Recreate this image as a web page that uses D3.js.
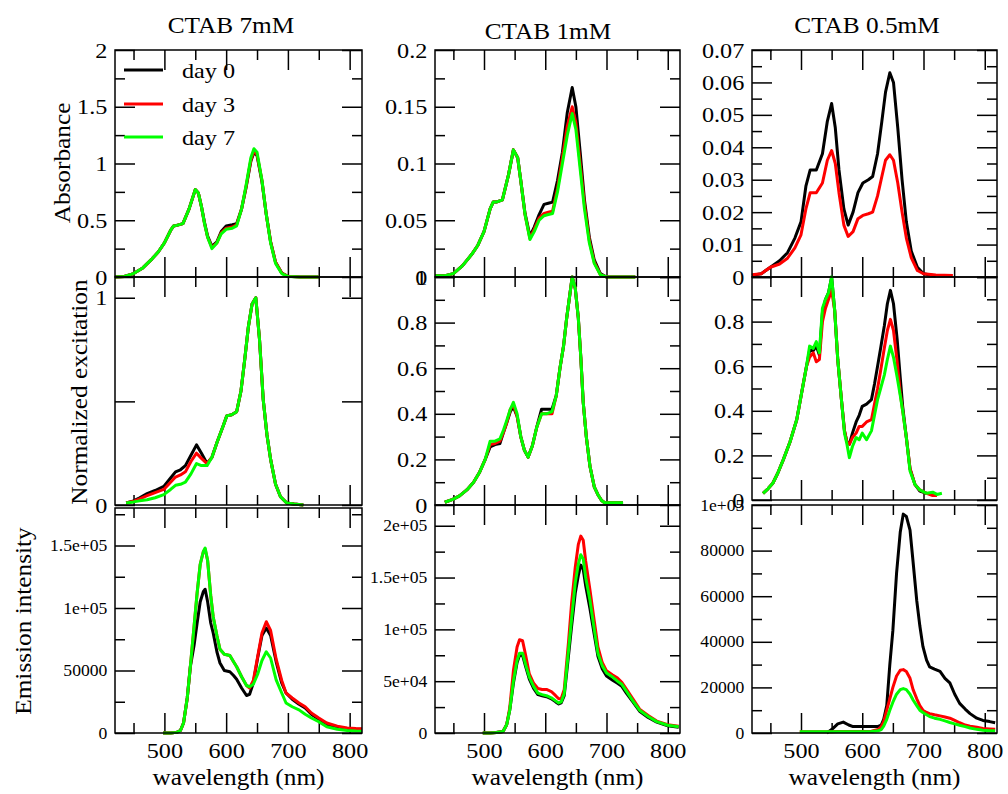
<!DOCTYPE html>
<html>
<head>
<meta charset="utf-8">
<script src="https://cdn.jsdelivr.net/npm/d3@7"></script>
<title>CTAB spectra</title>
<style>
  body { margin: 0; background: #fff; }
</style>
</head>
<body>
<svg width="1008" height="794" id="mainsvg"></svg>
<script>
// ---- data ----
const wlDomain = [420, 820];
const seriesNames = ["day 0", "day 3", "day 7"];
const seriesColors = ["#000000", "#ff0000", "#00ff00"];
const columnTitles = ["CTAB 7mM", "CTAB 1mM", "CTAB 0.5mM"];
const rowTitles = ["Absorbance", "Normalized excitation", "Emission intensity"];
const xMajor = [500, 600, 700, 800];
const xMinor = [450, 550, 650, 750];

// absorbance, 7 mM
const absWl7 = [420,435,450,465,480,490,500,510,515,520,530,540,550,555,560,565,570,577,585,592,600,610,617,625,632,640,645,650,658,665,672,680,690,700,720,750];
const abs7Day0 = [0,0.005,0.03,0.08,0.16,0.22,0.3,0.41,0.45,0.455,0.47,0.6,0.77,0.74,0.62,0.48,0.36,0.27,0.31,0.4,0.45,0.46,0.47,0.6,0.78,1.02,1.10,1.07,0.84,0.55,0.31,0.13,0.035,0.006,0,0];
const abs7Day3 = [0,0.005,0.03,0.08,0.16,0.22,0.3,0.41,0.45,0.455,0.47,0.6,0.77,0.74,0.62,0.47,0.35,0.26,0.3,0.39,0.43,0.44,0.46,0.6,0.79,1.03,1.11,1.08,0.85,0.55,0.31,0.13,0.035,0.006,0,0];
const abs7Day7 = [0,0.005,0.03,0.08,0.16,0.22,0.3,0.41,0.45,0.455,0.47,0.6,0.77,0.74,0.62,0.47,0.35,0.25,0.3,0.38,0.42,0.43,0.45,0.6,0.8,1.05,1.13,1.10,0.85,0.55,0.3,0.12,0.03,0.005,0,0];

// absorbance, 1 mM
const absWl1 = [420,435,450,465,480,490,500,510,515,520,530,540,548,555,560,567,575,582,590,598,605,612,620,628,636,644,650,657,664,672,680,690,700,720,747];
const abs1Day0 = [0.001,0.001,0.003,0.01,0.02,0.028,0.04,0.06,0.066,0.066,0.068,0.09,0.112,0.105,0.085,0.056,0.036,0.044,0.055,0.064,0.065,0.066,0.085,0.11,0.145,0.167,0.15,0.11,0.068,0.035,0.015,0.003,0,0,0];
const abs1Day3 = [0.001,0.001,0.003,0.01,0.02,0.028,0.04,0.06,0.066,0.066,0.068,0.09,0.112,0.105,0.085,0.055,0.034,0.042,0.052,0.056,0.057,0.058,0.078,0.105,0.133,0.15,0.136,0.1,0.064,0.032,0.013,0.002,0,0,0];
const abs1Day7 = [0.001,0.001,0.003,0.01,0.02,0.028,0.04,0.06,0.066,0.066,0.068,0.09,0.112,0.105,0.085,0.055,0.033,0.04,0.05,0.054,0.055,0.056,0.075,0.1,0.125,0.144,0.13,0.095,0.06,0.03,0.012,0.002,0,0,0];

// absorbance, 0.5 mM (no day 7 trace)
const absWl05 = [420,435,450,465,478,490,500,508,515,525,535,543,550,556,562,570,577,585,593,601,610,617,625,632,638,645,651,658,665,672,680,690,700,720,748];
const abs05Day0 = [0.0005,0.001,0.003,0.005,0.0075,0.012,0.017,0.028,0.033,0.033,0.038,0.048,0.0535,0.046,0.033,0.021,0.016,0.02,0.026,0.029,0.03,0.031,0.038,0.048,0.057,0.063,0.06,0.046,0.03,0.017,0.008,0.003,0.001,0.0003,null];
const abs05Day3 = [0.0007,0.001,0.003,0.004,0.0058,0.009,0.013,0.021,0.026,0.026,0.029,0.036,0.039,0.035,0.026,0.016,0.0125,0.014,0.018,0.019,0.0195,0.02,0.025,0.031,0.036,0.0377,0.036,0.029,0.02,0.012,0.006,0.002,0.001,0.0006,0.0005];
const abs05Day7 = absWl05.map(() => null);

// normalized excitation, 7 mM
const excWl7 = [438,450,460,472,485,499,510,518,526,534,543,552,560,569,577,585,595,601,609,617,624,630,636,642,648,654,660,666,672,680,688,698,710,725];
const exc7Day0 = [0.01,0.02,0.035,0.055,0.07,0.09,0.13,0.16,0.17,0.19,0.24,0.29,0.25,0.2,0.23,0.3,0.38,0.43,0.435,0.45,0.55,0.7,0.86,0.97,1.0,0.8,0.51,0.34,0.22,0.1,0.04,0.01,0.005,0];
const exc7Day3 = [0.01,0.018,0.03,0.045,0.06,0.075,0.11,0.135,0.145,0.16,0.21,0.25,0.225,0.2,0.23,0.3,0.38,0.43,0.435,0.45,0.55,0.7,0.86,0.97,1.0,0.8,0.51,0.34,0.22,0.1,0.04,0.01,0.005,0];
const exc7Day7 = [0.01,0.015,0.02,0.025,0.035,0.05,0.075,0.095,0.1,0.11,0.15,0.2,0.19,0.19,0.23,0.3,0.38,0.43,0.435,0.45,0.55,0.7,0.86,0.97,1.0,0.8,0.51,0.34,0.22,0.1,0.04,0.01,0.005,0];

// normalized excitation, 1 mM
const excWl1 = [436,449,460,472,483,493,502,510,518,526,532,537,543,548,554,560,566,572,579,586,594,602,611,618,624,630,635,640,644,649,654,658,662,667,673,680,686,692,697,710,727];
const exc1Day0 = [0.012,0.025,0.04,0.066,0.1,0.145,0.2,0.255,0.265,0.27,0.32,0.36,0.41,0.43,0.39,0.3,0.24,0.21,0.26,0.34,0.42,0.42,0.42,0.48,0.6,0.7,0.82,0.92,1.0,0.95,0.82,0.65,0.45,0.3,0.17,0.08,0.045,0.02,0.01,0.01,0.01];
const exc1Day3 = [0.012,0.025,0.04,0.066,0.1,0.145,0.2,0.265,0.27,0.28,0.32,0.36,0.42,0.44,0.39,0.3,0.24,0.21,0.26,0.34,0.4,0.4,0.4,0.48,0.6,0.7,0.82,0.92,1.0,0.95,0.82,0.65,0.45,0.3,0.17,0.08,0.045,0.02,0.01,0.01,0.01];
const exc1Day7 = [0.012,0.025,0.04,0.066,0.1,0.145,0.2,0.28,0.28,0.29,0.33,0.37,0.42,0.45,0.4,0.3,0.24,0.21,0.26,0.34,0.4,0.4,0.41,0.48,0.6,0.7,0.82,0.92,1.0,0.95,0.82,0.65,0.45,0.3,0.17,0.08,0.045,0.02,0.01,0.01,0.01];

// normalized excitation, 0.5 mM
const excWl05 = [438,446,454,462,471,482,493,503,509,514,520,525,530,535,540,545,550,555,560,566,571,575,579,584,590,595,600,607,615,620,625,630,636,641,646,651,657,662,666,672,678,686,694,705,715,722,730];
const exc05Day0 = [0.03,0.05,0.075,0.12,0.18,0.26,0.36,0.51,0.6,0.67,0.67,0.69,0.65,0.84,0.9,0.93,1.0,0.85,0.63,0.45,0.31,0.26,0.25,0.3,0.35,0.38,0.42,0.43,0.45,0.52,0.6,0.68,0.78,0.88,0.94,0.88,0.72,0.55,0.42,0.28,0.14,0.07,0.04,0.03,null,null,null];
const exc05Day3 = [0.03,0.05,0.075,0.12,0.18,0.26,0.36,0.51,0.6,0.64,0.66,0.62,0.63,0.8,0.86,0.9,0.94,0.85,0.63,0.45,0.31,0.26,0.25,0.28,0.3,0.33,0.33,0.35,0.36,0.43,0.5,0.58,0.68,0.76,0.81,0.76,0.62,0.48,0.4,0.28,0.14,0.07,0.045,0.03,0.02,0.02,null];
const exc05Day7 = [0.03,0.05,0.075,0.12,0.18,0.26,0.36,0.51,0.6,0.69,0.68,0.71,0.66,0.86,0.9,0.93,1.0,0.85,0.63,0.45,0.3,0.25,0.19,0.24,0.28,0.27,0.3,0.27,0.31,0.38,0.45,0.5,0.56,0.63,0.69,0.64,0.55,0.47,0.4,0.28,0.13,0.07,0.045,0.03,0.035,0.025,0.03];

// emission intensity, 7 mM
const emWl7 = [498,510,520,526,531,537,542,548,553,558,563,566,570,575,579,585,590,597,606,612,617,625,633,638,644,651,658,665,672,681,690,697,707,718,728,738,750,763,780,796,810,820];
const em7Day0 = [0,0,500,2000,8000,28000,53000,70000,88000,105000,113000,115000,105000,88000,80000,65000,56000,50000,49000,46000,43000,36000,30000,31000,40000,60000,78000,84000,78000,57000,40000,32000,27000,23000,20000,15000,11000,7000,4500,3500,3000,3000];
const em7Day3 = [0,0,500,2000,8000,28000,53000,85000,112000,135000,145000,147000,138000,110000,93000,78000,67000,63000,62000,57000,53000,45000,38000,36000,42000,61000,80000,89000,82000,59000,42000,32000,28000,24000,21000,16000,12000,8000,5500,4000,3600,3500];
const em7Day7 = [0,0,500,2000,8000,28000,53000,85000,112000,135000,145000,148000,138000,110000,93000,78000,67000,63000,62000,57000,53000,45000,38000,37000,39000,47000,58000,65000,60000,42500,32000,24000,21000,18500,15000,12000,9000,5000,3000,2000,1600,1500];

// emission intensity, 1 mM
const emWl1 = [498,510,520,531,537,542,548,554,558,563,568,574,581,588,595,602,610,617,622,626,631,638,643,649,654,658,662,666,673,680,686,693,700,710,718,725,733,743,754,768,782,800,818];
const em1Day0 = [0,0,500,1500,8000,22000,48000,68000,75000,75000,64000,52000,43000,37000,36000,35000,33000,30000,28000,29000,36000,75000,103000,135000,152000,162000,158000,142000,120000,95000,74000,62000,55000,51000,48000,45000,38000,30000,21000,15000,10500,7000,5500];
const em1Day3 = [0,0,500,1500,8000,24000,60000,83000,90000,89000,75000,57000,48000,43000,42000,42000,40000,36000,33000,33000,42000,88000,125000,160000,182000,190000,186000,166000,138000,108000,83000,68000,60000,56000,53000,49000,42000,33000,23000,17000,11500,8000,6500];
const em1Day7 = [0,0,500,1500,8000,22000,50000,70000,77000,77000,66000,54000,45000,38500,37000,36000,34000,31000,29000,30000,38000,80000,110000,145000,163000,172000,168000,150000,128000,100000,77000,65000,58000,54000,50000,47000,40000,31000,22000,16000,11000,7500,6000];

// emission intensity, 0.5 mM
const emWl05 = [498,520,542,550,560,569,578,585,600,615,626,631,635,640,645,650,656,662,667,672,678,683,689,694,699,705,710,718,727,735,743,751,759,768,776,787,797,808,817];
const em05Day0 = [null,null,0,1500,4000,4800,3500,2800,2800,2800,2900,3500,6000,12000,30000,45000,70000,88000,96000,95000,89000,75000,58000,47000,38000,32000,29000,28000,27000,24000,22000,17000,13000,10500,8500,6500,5500,5000,4500];
const em05Day3 = [600,600,600,600,700,700,700,700,700,800,1500,2800,5000,10000,15000,20000,25000,27500,27800,27000,24000,19000,15000,12000,10000,9000,8500,8000,7500,7000,6500,5500,4500,3500,3000,2500,2000,1800,1600];
const em05Day7 = [600,600,600,600,600,600,600,600,600,700,1000,1500,3000,6000,10000,13500,17000,19000,19500,19000,17000,14500,12000,10000,9000,8000,7200,6500,6000,5300,4600,4000,3400,2800,2200,1600,1200,1000,1000];

// y ticks and labels
const absTicks7 = [0, 0.5, 1, 1.5, 2];
const absLabels7 = ["0", "0.5", "1", "1.5", "2"];
const absTicks1 = [0, 0.05, 0.1, 0.15, 0.2];
const absLabels1 = ["0", "0.05", "0.1", "0.15", "0.2"];
const absTicks05 = [0, 0.01, 0.02, 0.03, 0.04, 0.05, 0.06, 0.07];
const absLabels05 = ["0", "0.01", "0.02", "0.03", "0.04", "0.05", "0.06", "0.07"];
const excTicks7 = [0, 1];
const excLabels7 = ["0", "1"];
const excTicks1 = [0, 0.2, 0.4, 0.6, 0.8, 1];
const excLabels1 = ["0", "0.2", "0.4", "0.6", "0.8", "1"];
const excTicks05 = [0, 0.2, 0.4, 0.6, 0.8];
const excLabels05 = ["0", "0.2", "0.4", "0.6", "0.8"];
const emTicks7 = [0, 50000, 100000, 150000];
const emLabels7 = ["0", "50000", "1e+05", "1.5e+05"];
const emTicks1 = [0, 50000, 100000, 150000, 200000];
const emLabels1 = ["0", "5e+04", "1e+05", "1.5e+05", "2e+05"];
const emTicks05 = [0, 20000, 40000, 60000, 80000, 100000];
const emLabels05 = ["0", "20000", "40000", "60000", "80000", "1e+05"];

// ---- layout ----
const FONT = "'Liberation Serif'";
const colX = [115, 435, 752];
const colW = [247, 245, 245];
const sx = 1.1; // text in the picture is a little wider than tall

const panels = [
  {row: 0, col: 0, top: 50, bottom: 277, wl: absWl7, ys: [abs7Day0, abs7Day3, abs7Day7], dom: [0, 2], major: 0.5, minor: 0.25, ticks: absTicks7, labels: absLabels7, fs: 22},
  {row: 0, col: 1, top: 50, bottom: 277, wl: absWl1, ys: [abs1Day0, abs1Day3, abs1Day7], dom: [0, 0.2], major: 0.05, minor: 0.025, ticks: absTicks1, labels: absLabels1, fs: 22},
  {row: 0, col: 2, top: 50, bottom: 277, wl: absWl05, ys: [abs05Day0, abs05Day3, abs05Day7], dom: [0, 0.07], major: 0.01, minor: 0.005, ticks: absTicks05, labels: absLabels05, fs: 22},
  {row: 1, col: 0, top: 277, bottom: 505, wl: excWl7, ys: [exc7Day0, exc7Day3, exc7Day7], dom: [0, 1.1], major: 0.5, minor: null, ticks: excTicks7, labels: excLabels7, fs: 22},
  {row: 1, col: 1, top: 277, bottom: 505, wl: excWl1, ys: [exc1Day0, exc1Day3, exc1Day7], dom: [0, 1], major: 0.2, minor: 0.1, ticks: excTicks1, labels: excLabels1, fs: 22},
  {row: 1, col: 2, top: 277, bottom: 500, wl: excWl05, ys: [exc05Day0, exc05Day3, exc05Day7], dom: [0, 1], major: 0.2, minor: 0.1, ticks: excTicks05, labels: excLabels05, fs: 22},
  {row: 2, col: 0, top: 508, bottom: 733, wl: emWl7, ys: [em7Day0, em7Day3, em7Day7], dom: [0, 180000], major: 50000, minor: 25000, ticks: emTicks7, labels: emLabels7, fs: 16},
  {row: 2, col: 1, top: 505, bottom: 733, wl: emWl1, ys: [em1Day0, em1Day3, em1Day7], dom: [0, 220000], major: 50000, minor: 25000, ticks: emTicks1, labels: emLabels1, fs: 16},
  {row: 2, col: 2, top: 505, bottom: 733, wl: emWl05, ys: [em05Day0, em05Day3, em05Day7], dom: [0, 100000], major: 20000, minor: 10000, ticks: emTicks05, labels: emLabels05, fs: 16}
];

const svg = d3.select('#mainsvg').attr('font-family', FONT);

function steps(dom, step) {
  if (!step) return [];
  return d3.range(0, Math.floor(dom[1] / step + 1e-6) + 1).map(i => +(i * step).toFixed(6));
}

function styleTicks(sel, fs) {
  sel.attr('font-family', FONT).attr('font-size', fs);
  sel.select('.domain').remove();
  sel.selectAll('.tick line').attr('stroke', '#000').attr('stroke-width', 1.5);
  sel.selectAll('.tick text').attr('fill', '#000');
}

panels.forEach(p => {
  const x0 = colX[p.col], w = colW[p.col], h = p.bottom - p.top;
  const g = svg.append('g').attr('transform', `translate(${x0},${p.top})`);
  const x = d3.scaleLinear().domain(wlDomain).range([0, w]);
  const y = d3.scaleLinear().domain(p.dom).range([h, 0]);

  // y ticks, left (labelled) and right
  const majorY = steps(p.dom, p.major);
  const minorY = steps(p.dom, p.minor).filter(v => !majorY.some(m => Math.abs(m - v) < 1e-9));
  const labelOf = v => {
    const i = p.ticks.findIndex(t => Math.abs(t - v) < 1e-9);
    return i < 0 ? '' : p.labels[i];
  };
  const yl = g.append('g').call(d3.axisLeft(y).tickValues(majorY).tickSize(-20).tickPadding(7).tickFormat(labelOf));
  styleTicks(yl, p.fs);
  yl.selectAll('.tick text').attr('transform', `scale(${sx},1)`);
  styleTicks(g.append('g').call(d3.axisLeft(y).tickValues(minorY).tickSize(-10).tickFormat('')), p.fs);
  styleTicks(g.append('g').attr('transform', `translate(${w},0)`).call(d3.axisRight(y).tickValues(majorY).tickSize(-20).tickFormat('')), p.fs);
  styleTicks(g.append('g').attr('transform', `translate(${w},0)`).call(d3.axisRight(y).tickValues(minorY).tickSize(-10).tickFormat('')), p.fs);

  // x ticks, bottom and top
  const xb = g.append('g').attr('transform', `translate(0,${h})`)
    .call(d3.axisBottom(x).tickValues(xMajor).tickSize(-20).tickPadding(9).tickFormat(p.row === 2 ? d3.format('d') : ''));
  styleTicks(xb, 22);
  xb.selectAll('.tick text').attr('transform', `scale(${sx},1)`);
  styleTicks(g.append('g').attr('transform', `translate(0,${h})`).call(d3.axisBottom(x).tickValues(xMinor).tickSize(-10).tickFormat('')), 22);
  styleTicks(g.append('g').call(d3.axisTop(x).tickValues(xMajor).tickSize(-20).tickFormat('')), 22);
  styleTicks(g.append('g').call(d3.axisTop(x).tickValues(xMinor).tickSize(-10).tickFormat('')), 22);

  // curves
  p.ys.forEach((vals, si) => {
    const pts = p.wl.map((wl, i) => [wl, vals[i]]);
    const line = d3.line().defined(d => d[1] != null).x(d => x(d[0])).y(d => y(d[1]));
    g.append('path')
      .datum(pts)
      .attr('d', line)
      .attr('fill', 'none')
      .attr('stroke', seriesColors[si])
      .attr('stroke-width', 3)
      .attr('stroke-linejoin', 'round');
  });

  // frame
  g.append('rect').attr('width', w).attr('height', h)
    .attr('fill', 'none').attr('stroke', '#000').attr('stroke-width', 1.5);
});

function addText(x, y, str, size, anchor, rot) {
  return svg.append('text')
    .attr('transform', `translate(${x},${y})` + (rot ? ` rotate(${rot})` : '') + ` scale(${sx},1)`)
    .attr('text-anchor', anchor)
    .attr('font-family', FONT)
    .attr('font-size', size)
    .attr('fill', '#000')
    .text(str);
}

// column titles
const titlePos = [[231, 33], [548, 39], [867, 33]];
columnTitles.forEach((t, i) => addText(titlePos[i][0], titlePos[i][1], t, 23, 'middle'));

// row titles
const rowTitlePos = [[62, 163], [79, 392], [23, 621]];
rowTitles.forEach((t, i) => addText(rowTitlePos[i][0], rowTitlePos[i][1], t, 23, 'middle', -90).attr('dy', '0.35em'));

// x titles
colX.forEach((cx, i) => addText(cx + colW[i] / 2, 785, 'wavelength (nm)', 23, 'middle'));

// legend in first panel
const legendY = [70, 104, 137];
seriesNames.forEach((name, i) => {
  svg.append('line')
    .attr('x1', 124).attr('x2', 163)
    .attr('y1', legendY[i]).attr('y2', legendY[i])
    .attr('stroke', seriesColors[i]).attr('stroke-width', 3);
  addText(182, legendY[i] + 8, name, 22, 'start');
});
</script>
</body>
</html>
